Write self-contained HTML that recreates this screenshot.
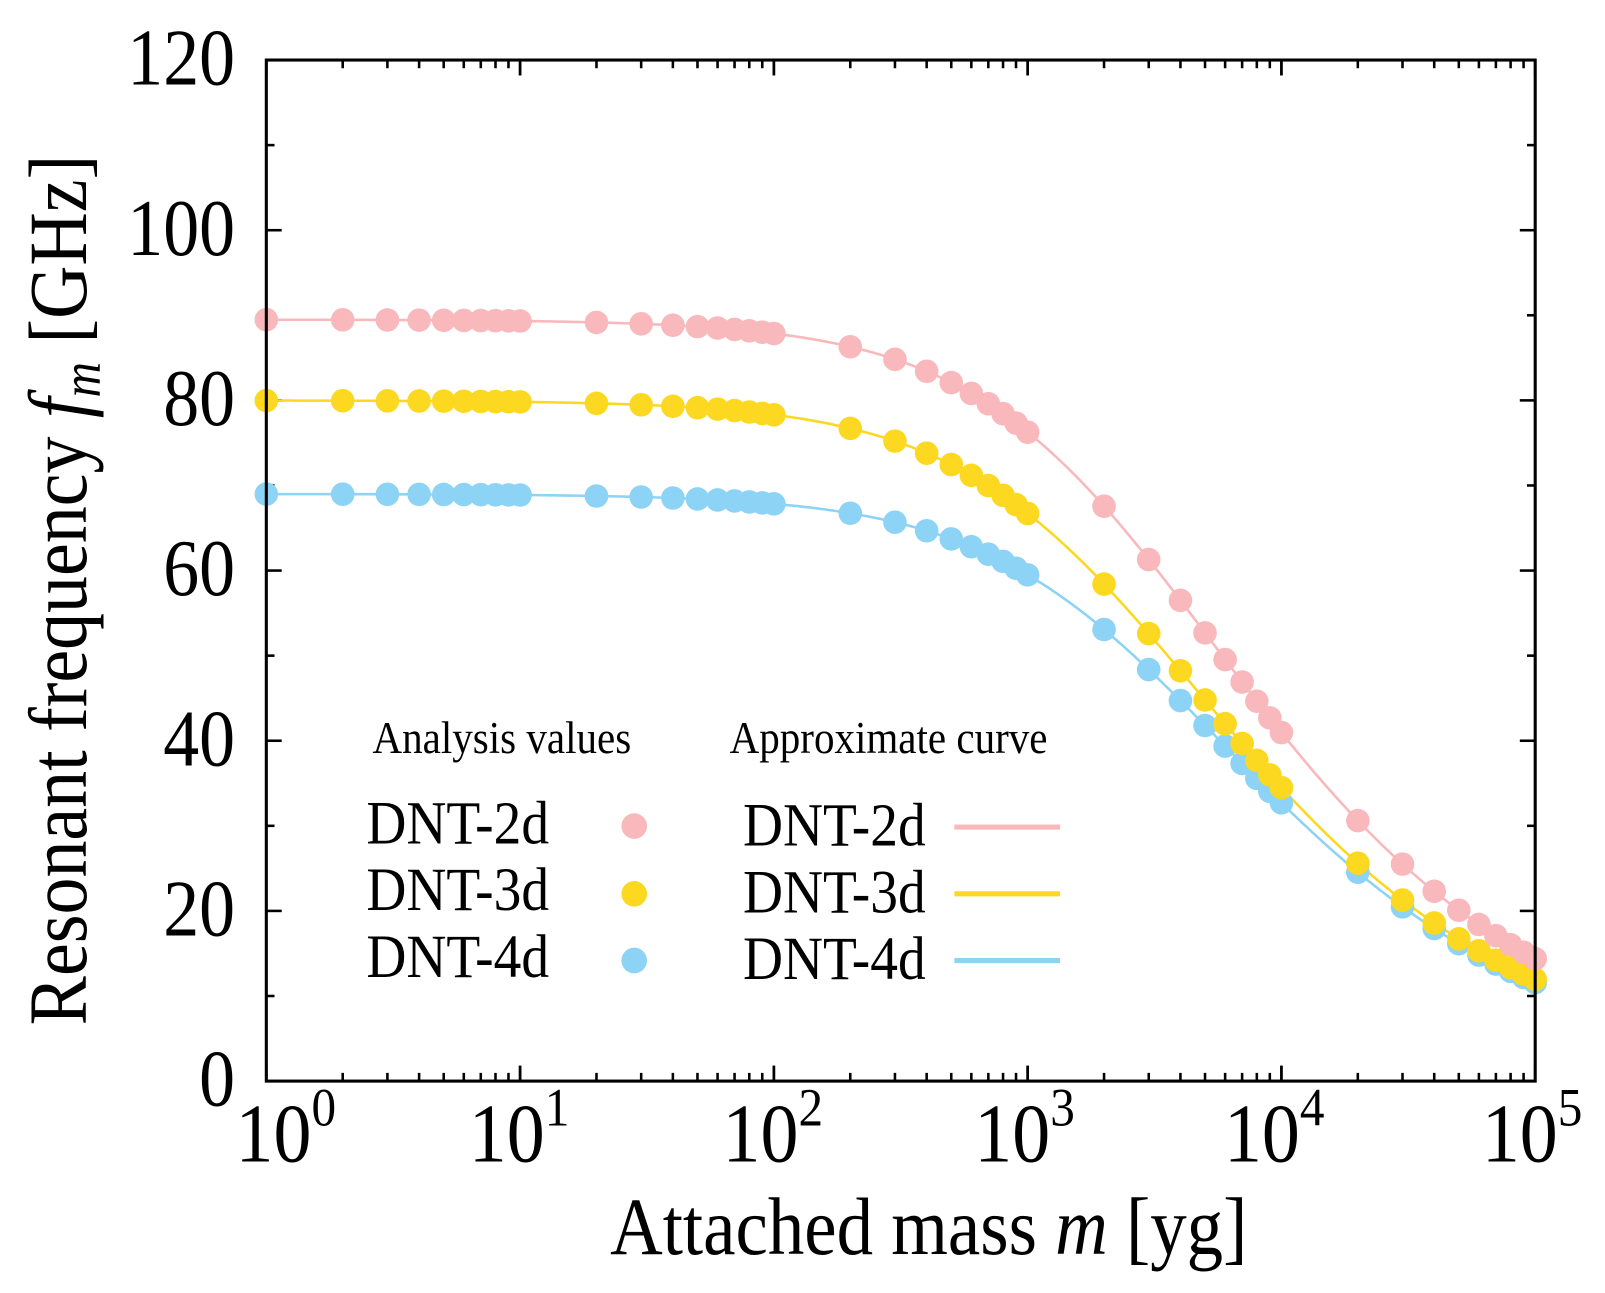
<!DOCTYPE html>
<html><head><meta charset="utf-8"><style>
html,body{margin:0;padding:0;background:#fff;}
svg{display:block;font-family:"Liberation Serif",serif;}
</style></head><body>
<svg id="s" width="1605" height="1293" viewBox="0 0 1564 1260" xmlns="http://www.w3.org/2000/svg">
<rect width="1564" height="1260" fill="#fff"/>
<g id="ticks" stroke="#000" stroke-width="2.5"></g>
<g id="series"></g>
<rect x="259.5" y="58.5" width="1236.5" height="995" fill="none" stroke="#000" stroke-width="3"/>
<g font-size="70" text-anchor="end" id="yl"></g>
<g font-size="74" id="xl"></g>
<g transform="translate(905,1222) scale(1,1.12)"><text x="0" y="0" font-size="71" text-anchor="middle">Attached mass <tspan font-style="italic">m</tspan> [yg]</text></g>
<g transform="translate(84,575) rotate(-90) scale(1,1.12)"><text x="0" y="0" font-size="72" text-anchor="middle">Resonant frequency <tspan font-style="italic">f</tspan><tspan font-style="italic" font-size="48" dy="12">m</tspan><tspan dy="-12"> [GHz]</tspan></text></g>
<g font-size="40">
<g transform="translate(363,734) scale(1,1.1)"><text>Analysis values</text></g>
<g transform="translate(711,734) scale(1,1.1)"><text>Approximate curve</text></g>
</g>
<g font-size="54">
<g transform="translate(357,822) scale(1,1.1)"><text>DNT-2d</text></g>
<g transform="translate(357,887) scale(1,1.1)"><text>DNT-3d</text></g>
<g transform="translate(357,952) scale(1,1.1)"><text>DNT-4d</text></g>
<g transform="translate(724,824) scale(1,1.1)"><text>DNT-2d</text></g>
<g transform="translate(724,889) scale(1,1.1)"><text>DNT-3d</text></g>
<g transform="translate(724,954) scale(1,1.1)"><text>DNT-4d</text></g>
</g>
<circle cx="618" cy="805" r="12.5" fill="#f9b8bb"/>
<circle cx="618" cy="871" r="12.5" fill="#fcd820"/>
<circle cx="618" cy="936" r="12.5" fill="#8dd3f5"/>
<line x1="930" y1="806" x2="1033" y2="806" stroke="#f9b8bb" stroke-width="5"/>
<line x1="930" y1="871" x2="1033" y2="871" stroke="#fcd820" stroke-width="5"/>
<line x1="930" y1="936" x2="1033" y2="936" stroke="#8dd3f5" stroke-width="5"/>
</svg>
<script>
var NS="http://www.w3.org/2000/svg";
var L0=259.5,R0=1496,T0=58.5,B0=1053.5,DEC=(R0-L0)/5;
function X(m){return L0+DEC*Math.log10(m);}
function Y(f){return B0-f*(B0-T0)/120;}
function el(p,t,a){var e=document.createElementNS(NS,t);for(var k in a)e.setAttribute(k,a[k]);p.appendChild(e);return e;}
var tk=document.getElementById("ticks");
for(var v=10;v<120;v+=10){var L=(v%20==0)?15:8;var y=Y(v);
el(tk,"line",{x1:L0,y1:y,x2:L0+L,y2:y});el(tk,"line",{x1:R0,y1:y,x2:R0-L,y2:y});}
for(var d=0;d<5;d++)for(var k=1;k<=10;k++){var m=k*Math.pow(10,d);var x=X(m);var L=(k==1||k==10)?15:8;
el(tk,"line",{x1:x,y1:B0,x2:x,y2:B0-L});el(tk,"line",{x1:x,y1:T0,x2:x,y2:T0+L});}
var yl=document.getElementById("yl");
for(var v=0;v<=120;v+=20){var g=el(yl,"g",{transform:"translate(229,"+(Y(v)+24)+") scale(1,1.12)"});var t=el(g,"text",{x:0,y:0});t.textContent=v;}
var xl=document.getElementById("xl");
var off=[30,50,50,52,56,52];
for(var d=0;d<=5;d++){var xx=X(Math.pow(10,d))-off[d];var g=el(xl,"g",{transform:"translate("+xx+",1132) scale(1,1.1)"});var t=el(g,"text",{x:0,y:0});t.innerHTML='10<tspan font-size="48" dy="-32">'+d+'</tspan>';}
var sr=document.getElementById("series");
var S=[["#8dd3f5",69,2897],["#fcd820",80,2283],["#f9b8bb",89.5,2650]];
var ms=[];for(var d=0;d<5;d++)for(var k=1;k<=9;k++)ms.push(k*Math.pow(10,d));ms.push(100000);
S.forEach(function(s){var p="";for(var i=0;i<=500;i++){var m=Math.pow(10,5*i/500);p+=(i?"L":"M")+X(m).toFixed(1)+","+Y(s[1]/Math.sqrt(1+m/s[2])).toFixed(1);}
el(sr,"path",{d:p,fill:"none",stroke:s[0],"stroke-width":2.5});});
S.forEach(function(s){ms.forEach(function(m){el(sr,"circle",{cx:X(m),cy:Y(s[1]/Math.sqrt(1+m/s[2])),r:11.5,fill:s[0]});});});
</script>
</body></html>
